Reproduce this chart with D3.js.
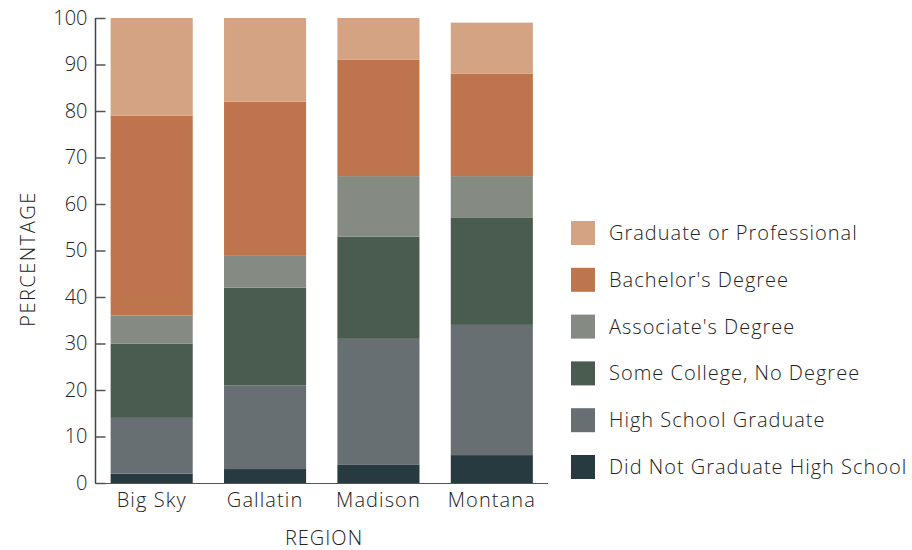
<!DOCTYPE html>
<html>
<head>
<meta charset="utf-8">
<script src="https://cdn.jsdelivr.net/npm/d3@7"></script>
<style>
  html, body { margin: 0; padding: 0; background: #fff; }
  svg text { font-family: "Open Sans", "DejaVu Sans", sans-serif; font-weight: 300; fill: #222; }
</style>
</head>
<body>
<svg id="chart" width="912" height="550"></svg>
<script>
// Educational attainment by region (percent of adults)
const regions = ["Big Sky", "Gallatin", "Madison", "Montana"];
const levels = [
  "Did Not Graduate High School",
  "High School Graduate",
  "Some College, No Degree",
  "Associate's Degree",
  "Bachelor's Degree",
  "Graduate or Professional"
];
const didNotGraduate = [2, 3, 4, 6];
const highSchool     = [12, 18, 27, 28];
const someCollege    = [16, 21, 22, 23];
const associate      = [6, 7, 13, 9];
const bachelor       = [43, 33, 25, 22];
const graduate       = [21, 18, 9, 11];
const yTicks = [0, 10, 20, 30, 40, 50, 60, 70, 80, 90, 100];
const colors = ["#263a40", "#686f72", "#4a5b4f", "#858b82", "#be754d", "#d4a383"];

const seriesValues = [didNotGraduate, highSchool, someCollege, associate, bachelor, graduate];
const rows = regions.map((r, i) => {
  const o = { region: r };
  levels.forEach((l, j) => { o[l] = seriesValues[j][i]; });
  return o;
});

const svg = d3.select("#chart");
const x = d3.scaleBand().domain(regions).range([95, 548.5]).paddingInner(0.276).paddingOuter(0.138);
const y = d3.scaleLinear().domain([0, 100]).range([483, 18]);
const color = d3.scaleOrdinal().domain(levels).range(colors);

const stacked = d3.stack().keys(levels)(rows);

svg.append("g").selectAll("g")
  .data(stacked)
  .join("g")
  .attr("fill", d => color(d.key))
  .selectAll("rect")
  .data(d => d)
  .join("rect")
  .attr("x", d => x(d.data.region))
  .attr("width", x.bandwidth())
  .attr("y", d => y(d[1]))
  .attr("height", d => y(d[0]) - y(d[1]));

// Y axis: ticks point into the plot
const yAxis = svg.append("g")
  .attr("transform", "translate(95.5,0)")
  .call(d3.axisRight(y).tickValues(yTicks).tickSize(10));
yAxis.select(".domain").attr("d", "M0," + y(100) + "V" + y(0)).attr("stroke", "#444").attr("stroke-width", 1.5);
yAxis.selectAll(".tick line").attr("stroke", "#555").attr("stroke-width", 1.5);
yAxis.selectAll(".tick text")
  .attr("text-anchor", "end")
  .attr("x", -8)
  .attr("font-size", 20)
  .style("font-family", '"Open Sans", sans-serif')
  .style("font-weight", 300)
  .attr("fill", "#222");

// X axis
const xAxis = svg.append("g")
  .attr("transform", "translate(0,483.5)")
  .call(d3.axisBottom(x).tickSize(0).tickPadding(9));
xAxis.select(".domain").attr("d", "M95,0H548").attr("stroke", "#555").attr("stroke-width", 1.2);
xAxis.selectAll(".tick text")
  .attr("font-size", 20)
  .style("font-family", '"Open Sans", sans-serif')
  .style("font-weight", 300)
  .style("letter-spacing", "1.1px")
  .attr("fill", "#222");

// Axis titles
svg.append("text")
  .attr("x", 324).attr("y", 545)
  .attr("text-anchor", "middle")
  .attr("font-size", 20)
  .style("letter-spacing", "1px")
  .text("REGION");
svg.append("text")
  .attr("transform", "translate(35,259) rotate(-90)")
  .attr("text-anchor", "middle")
  .attr("font-size", 20)
  .style("letter-spacing", "1.5px")
  .text("PERCENTAGE");

// Legend, top entry is the top of the stack
const legendItems = levels.slice().reverse();
const legend = svg.append("g").selectAll("g")
  .data(legendItems)
  .join("g")
  .attr("transform", (d, i) => `translate(571,${221 + i * 46.8})`);
legend.append("rect")
  .attr("width", 24).attr("height", 24)
  .attr("fill", d => color(d));
legend.append("text")
  .attr("x", 38).attr("y", 12)
  .attr("dy", "0.35em")
  .attr("font-size", 20)
  .style("letter-spacing", "1px")
  .text(d => d);
</script>
</body>
</html>
